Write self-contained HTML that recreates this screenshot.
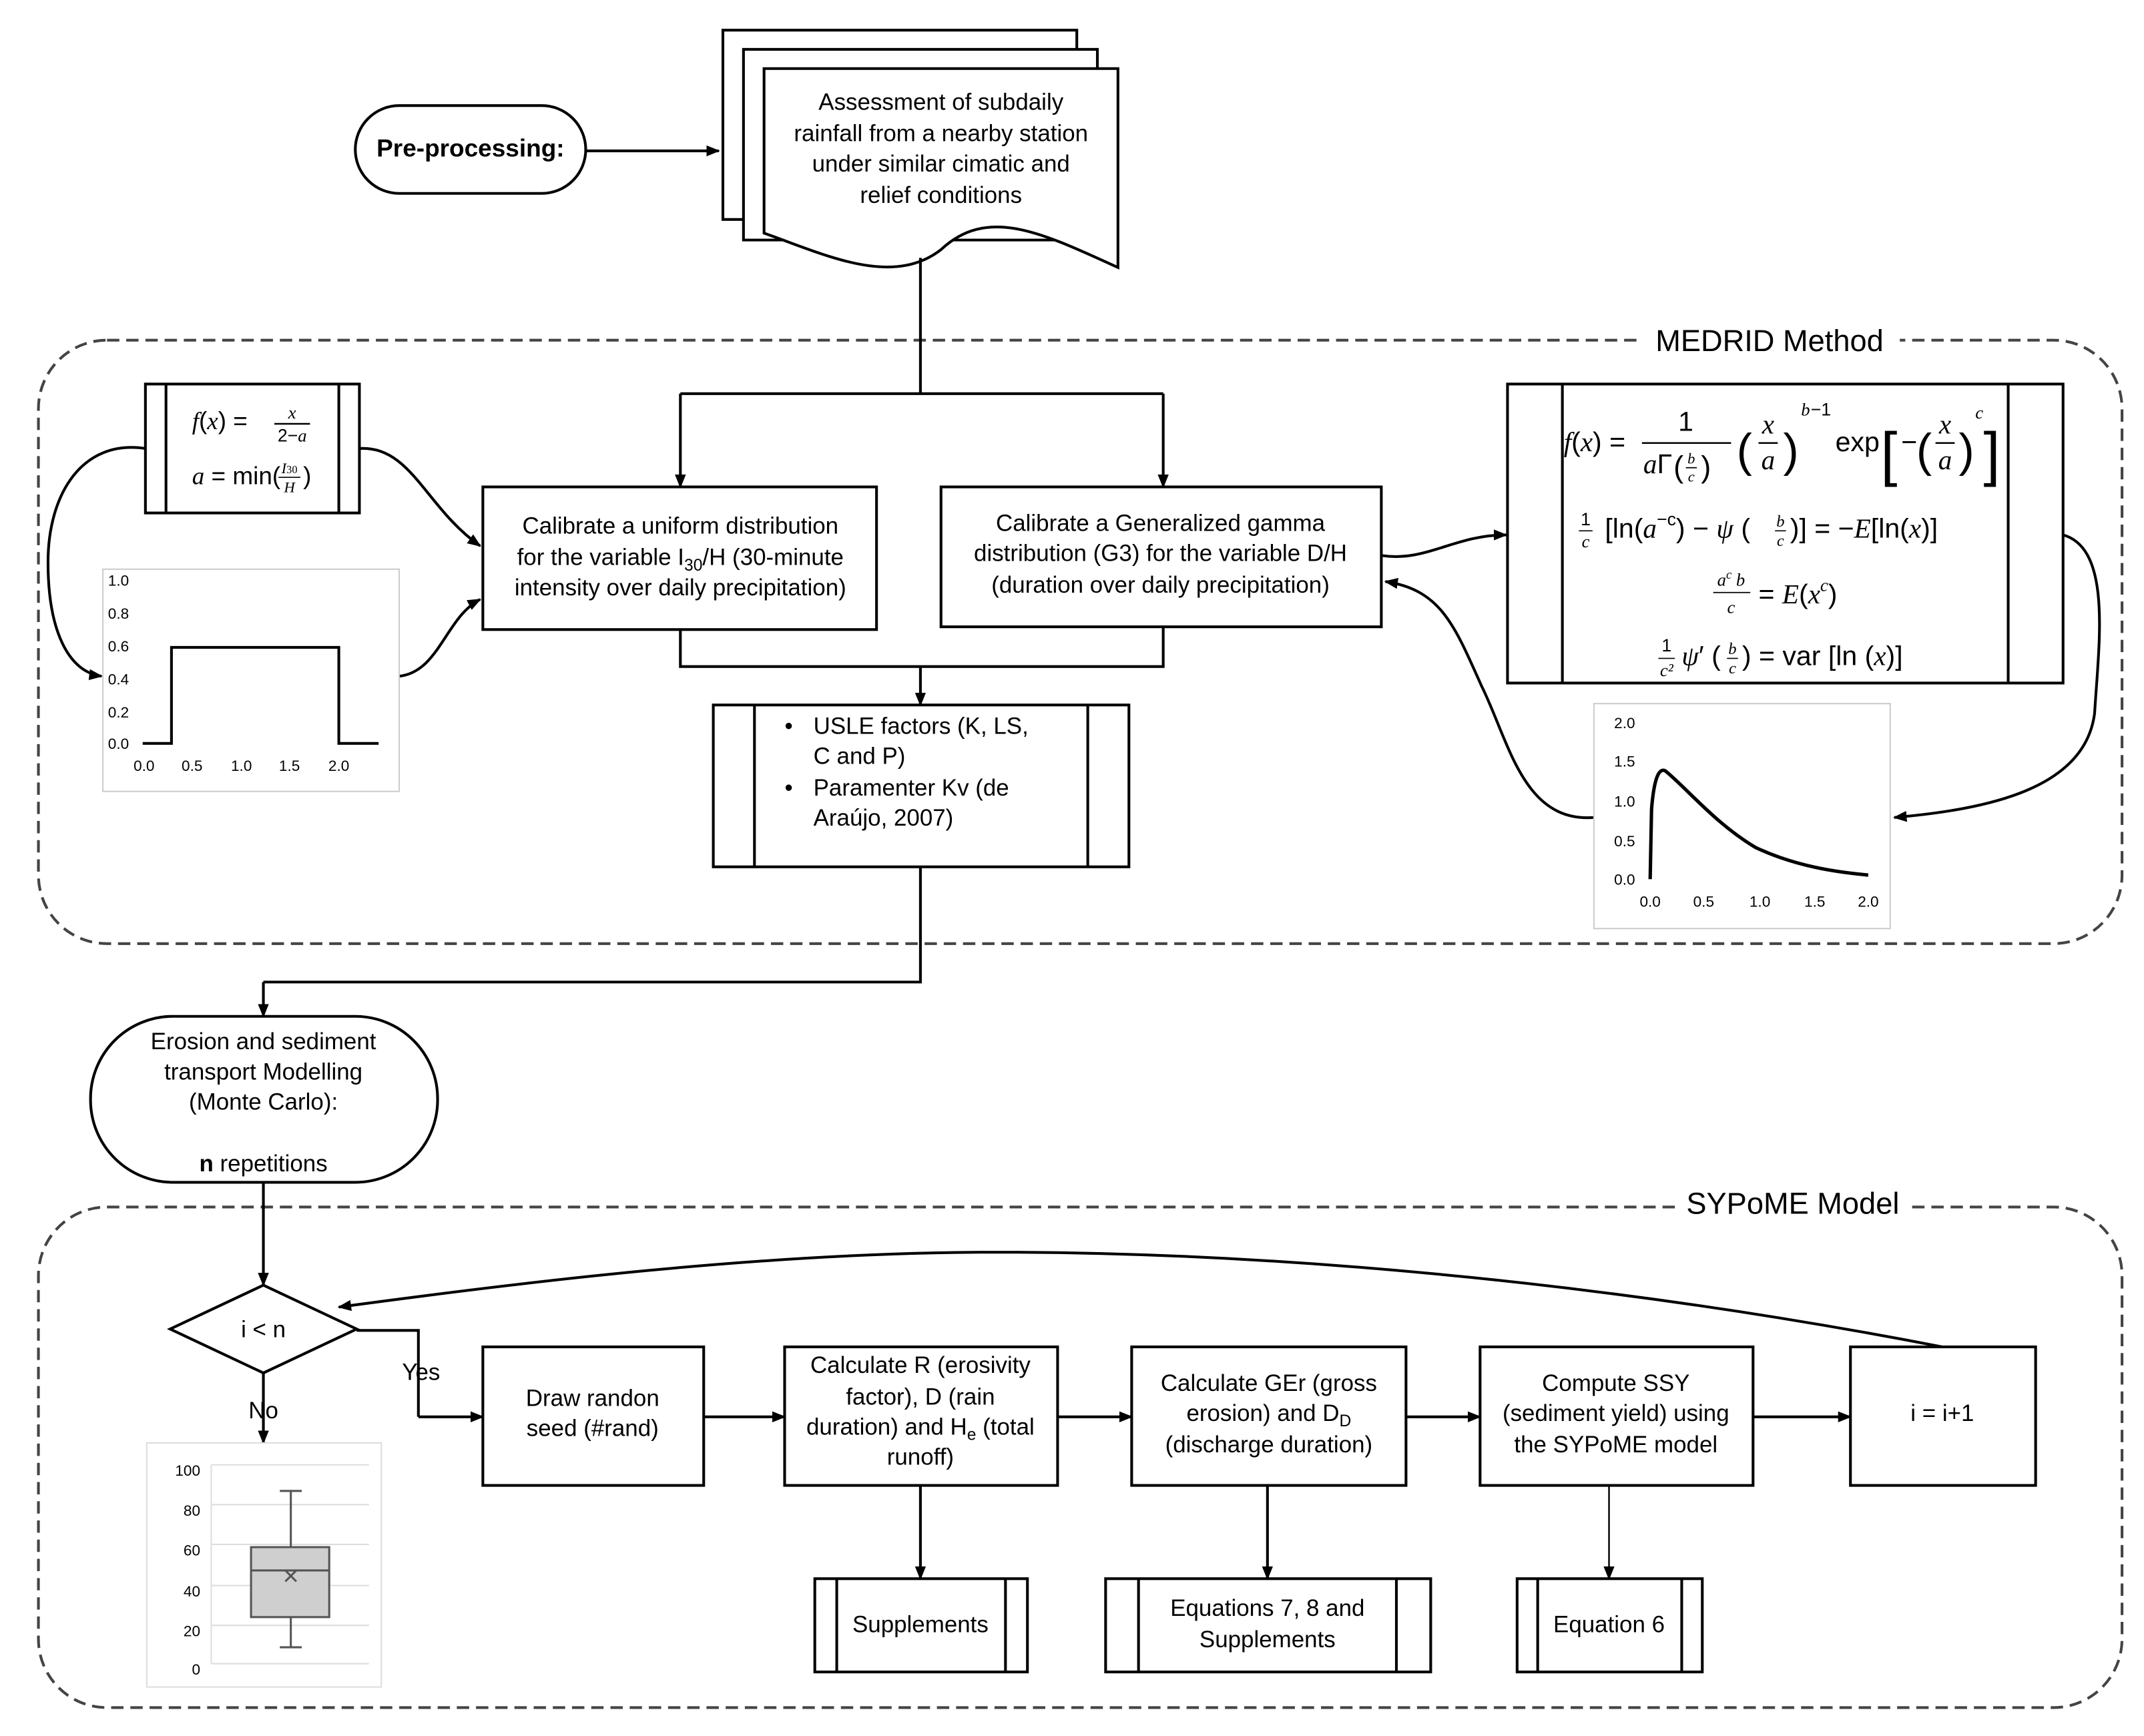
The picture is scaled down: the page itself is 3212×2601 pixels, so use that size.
<!DOCTYPE html>
<html><head><meta charset="utf-8"><style>
html,body{margin:0;padding:0;background:#fff}
svg{display:block}
text{font-family:"Liberation Sans",sans-serif;fill:#000}
.s{font-family:"Liberation Serif",serif;font-style:italic}
.r{font-family:"Liberation Serif",serif}
.ax{font-size:11px;fill:#222}
</style></head><body>
<svg width="3212" height="2601" viewBox="0 0 1563 1265.7" xmlns="http://www.w3.org/2000/svg">
<defs>
<marker id="a" markerWidth="10" markerHeight="10" refX="9" refY="5" orient="auto" markerUnits="userSpaceOnUse"><path d="M0,1 L10,5 L0,9 z" fill="#000"/></marker>
</defs>
<g fill="none" stroke="#000" stroke-width="2">
<rect x="28" y="248" width="1519" height="440" rx="50" stroke="#444" stroke-dasharray="9,5"/>
<rect x="28" y="880" width="1519" height="365" rx="50" stroke="#444" stroke-dasharray="9,5"/>
</g>
<rect x="1195" y="236" width="190" height="24" fill="#fff"/>
<text x="1290" y="256" font-size="22" text-anchor="middle" fill="#333">MEDRID Method</text>
<rect x="1222" y="865" width="170" height="24" fill="#fff"/>
<text x="1307" y="885" font-size="22" text-anchor="middle" fill="#333">SYPoME Model</text>

<g fill="none" stroke="#000" stroke-width="2">
<rect x="259" y="77" width="168" height="64" rx="32" fill="#fff"/>
<line x1="427" y1="110" x2="524" y2="110" marker-end="url(#a)"/>
<path d="M527,22 H785 V160 H527 Z" fill="#fff"/>
<path d="M542,36 H800 V175 H542 Z" fill="#fff"/>
<path d="M557,50 H815 V195 C760,170 720,150 686,182 C650,210 600,185 557,170 Z" fill="#fff"/>
<polyline points="671,188 671,287"/>
<polyline points="496,287 848,287"/>
<line x1="496" y1="287" x2="496" y2="355" marker-end="url(#a)"/>
<line x1="848" y1="287" x2="848" y2="355" marker-end="url(#a)"/>
<rect x="106" y="280" width="156" height="94" fill="#fff"/>
<line x1="121" y1="280" x2="121" y2="374"/><line x1="247" y1="280" x2="247" y2="374"/>
<rect x="352" y="355" width="287" height="104" fill="#fff"/>
<rect x="686" y="355" width="321" height="102" fill="#fff"/>
<polyline points="496,459 496,486 848,486 848,457"/>
<line x1="671" y1="486" x2="671" y2="514" marker-end="url(#a)"/>
<rect x="520" y="514" width="303" height="118" fill="#fff"/>
<line x1="550" y1="514" x2="550" y2="632"/><line x1="793" y1="514" x2="793" y2="632"/>
<rect x="1099" y="280" width="405" height="218" fill="#fff"/>
<line x1="1139" y1="280" x2="1139" y2="498"/><line x1="1464" y1="280" x2="1464" y2="498"/>
<path d="M106,327 C60,320 35,360 35,410 C35,460 50,490 74,493" marker-end="url(#a)"/>
<path d="M262,327 C300,325 310,370 350,398" marker-end="url(#a)"/>
<path d="M291,493 C320,490 325,450 350,437" marker-end="url(#a)"/>
<path d="M1007,405 C1040,410 1060,390 1098,390" marker-end="url(#a)"/>
<path d="M1504,390 C1540,400 1530,470 1527,520 C1520,575 1450,590 1381,596" marker-end="url(#a)"/>
<path d="M1162,596 C1110,600 1100,540 1080,500 C1060,455 1050,430 1010,424" marker-end="url(#a)"/>
<polyline points="671,632 671,716 192,716"/>
<line x1="192" y1="716" x2="192" y2="741" marker-end="url(#a)"/>
<rect x="66" y="741" width="253" height="121" rx="60" fill="#fff"/>
<line x1="192" y1="862" x2="192" y2="937" marker-end="url(#a)"/>
<path d="M192,937 L260,969 L192,1001 L124,969 Z" fill="#fff"/>
<polyline points="260,970 305,970 305,1033"/>
<line x1="305" y1="1033" x2="352" y2="1033" marker-end="url(#a)"/>
<line x1="192" y1="1001" x2="192" y2="1052" marker-end="url(#a)"/>
<rect x="352" y="982" width="161" height="101" fill="#fff"/>
<rect x="572" y="982" width="199" height="101" fill="#fff"/>
<rect x="825" y="982" width="200" height="101" fill="#fff"/>
<rect x="1079" y="982" width="199" height="101" fill="#fff"/>
<rect x="1349" y="982" width="135" height="101" fill="#fff"/>
<line x1="513" y1="1033" x2="572" y2="1033" marker-end="url(#a)"/>
<line x1="771" y1="1033" x2="825" y2="1033" marker-end="url(#a)"/>
<line x1="1025" y1="1033" x2="1079" y2="1033" marker-end="url(#a)"/>
<line x1="1278" y1="1033" x2="1349" y2="1033" marker-end="url(#a)"/>
<path d="M1416,982 C1200,940 950,912 714,913 C550,914 380,935 247,953" marker-end="url(#a)"/>
<line x1="671" y1="1083" x2="671" y2="1151" marker-end="url(#a)"/>
<line x1="924" y1="1083" x2="924" y2="1151" marker-end="url(#a)"/>
<line x1="1173" y1="1083" x2="1173" y2="1151" stroke-width="1.2" marker-end="url(#a)"/>
<rect x="594" y="1151" width="155" height="68" fill="#fff"/>
<line x1="610" y1="1151" x2="610" y2="1219"/><line x1="733" y1="1151" x2="733" y2="1219"/>
<rect x="806" y="1151" width="237" height="68" fill="#fff"/>
<line x1="830" y1="1151" x2="830" y2="1219"/><line x1="1018" y1="1151" x2="1018" y2="1219"/>
<rect x="1106" y="1151" width="135" height="68" fill="#fff"/>
<line x1="1121" y1="1151" x2="1121" y2="1219"/><line x1="1226" y1="1151" x2="1226" y2="1219"/>
</g>

<rect x="75" y="415" width="216" height="162" fill="#fff" stroke="#ccc"/>
<g class="ax" font-size="11">
<text x="94" y="427" text-anchor="end">1.0</text><text x="94" y="451" text-anchor="end">0.8</text>
<text x="94" y="475" text-anchor="end">0.6</text><text x="94" y="499" text-anchor="end">0.4</text>
<text x="94" y="523" text-anchor="end">0.2</text><text x="94" y="546" text-anchor="end">0.0</text>
<text x="105" y="562" text-anchor="middle">0.0</text><text x="140" y="562" text-anchor="middle">0.5</text>
<text x="176" y="562" text-anchor="middle">1.0</text><text x="211" y="562" text-anchor="middle">1.5</text>
<text x="247" y="562" text-anchor="middle">2.0</text>
</g>
<polyline points="104,542 125,542 125,472 247,472 247,542 276,542" fill="none" stroke="#000" stroke-width="2"/>

<rect x="1162" y="513" width="216" height="164" fill="#fff" stroke="#ccc"/>
<g class="ax">
<text x="1192" y="531" text-anchor="end">2.0</text><text x="1192" y="559" text-anchor="end">1.5</text>
<text x="1192" y="588" text-anchor="end">1.0</text><text x="1192" y="617" text-anchor="end">0.5</text>
<text x="1192" y="645" text-anchor="end">0.0</text>
<text x="1203" y="661" text-anchor="middle">0.0</text><text x="1242" y="661" text-anchor="middle">0.5</text>
<text x="1283" y="661" text-anchor="middle">1.0</text><text x="1323" y="661" text-anchor="middle">1.5</text>
<text x="1362" y="661" text-anchor="middle">2.0</text>
</g>
<path d="M1203,641 L1204,590 C1206,565 1210,560 1214,562 C1230,575 1250,600 1280,618 C1310,632 1340,636 1362,638" fill="none" stroke="#000" stroke-width="2.5"/>

<rect x="107" y="1052" width="171" height="178" fill="#fff" stroke="#ddd"/>
<g stroke="#ddd"><line x1="154" y1="1068" x2="269" y2="1068"/><line x1="154" y1="1097" x2="269" y2="1097"/><line x1="154" y1="1126" x2="269" y2="1126"/><line x1="154" y1="1156" x2="269" y2="1156"/><line x1="154" y1="1185" x2="269" y2="1185"/><line x1="154" y1="1213" x2="269" y2="1213"/><line x1="154" y1="1068" x2="154" y2="1213"/></g>
<g class="ax" font-size="12" fill="#111">
<text x="146" y="1076" text-anchor="end">100</text><text x="146" y="1105" text-anchor="end">80</text>
<text x="146" y="1134" text-anchor="end">60</text><text x="146" y="1164" text-anchor="end">40</text>
<text x="146" y="1193" text-anchor="end">20</text><text x="146" y="1221" text-anchor="end">0</text>
</g>
<g stroke="#555" stroke-width="1.5" fill="none">
<line x1="212" y1="1087" x2="212" y2="1128"/><line x1="204" y1="1087" x2="220" y2="1087"/>
<rect x="183" y="1128" width="57" height="51" fill="#d0cfd0"/>
<line x1="183" y1="1145" x2="240" y2="1145"/>
<line x1="208" y1="1145" x2="216" y2="1153"/><line x1="216" y1="1145" x2="208" y2="1153"/>
<line x1="212" y1="1179" x2="212" y2="1201"/><line x1="204" y1="1201" x2="220" y2="1201"/>
</g>

<g font-size="17" text-anchor="middle">
<text x="343" y="114" font-weight="bold" font-size="18">Pre-processing:</text>
<text x="686" y="80">Assessment of subdaily</text>
<text x="686" y="103">rainfall from a nearby station</text>
<text x="686" y="125">under similar cimatic and</text>
<text x="686" y="148">relief conditions</text>
<text x="496" y="389">Calibrate a uniform distribution</text>
<text x="496" y="412">for the variable I<tspan font-size="12" dy="4">30</tspan><tspan dy="-4">/H (30-minute</tspan></text>
<text x="496" y="434">intensity over daily precipitation)</text>
<text x="846" y="387">Calibrate a Generalized gamma</text>
<text x="846" y="409">distribution (G3) for the variable D/H</text>
<text x="846" y="432">(duration over daily precipitation)</text>
<text x="192" y="765">Erosion and sediment</text>
<text x="192" y="787">transport Modelling</text>
<text x="192" y="809">(Monte Carlo):</text>
<text x="192" y="854"><tspan font-weight="bold">n</tspan> repetitions</text>
<text x="192" y="975">i &lt; n</text>
<text x="307" y="1006">Yes</text>
<text x="192" y="1034">No</text>
<text x="432" y="1025">Draw randon</text>
<text x="432" y="1047">seed (#rand)</text>
<text x="671" y="1001">Calculate R (erosivity</text>
<text x="671" y="1024">factor), D (rain</text>
<text x="671" y="1046">duration) and H<tspan font-size="12" dy="4">e</tspan><tspan dy="-4"> (total</tspan></text>
<text x="671" y="1068">runoff)</text>
<text x="925" y="1014">Calculate GEr (gross</text>
<text x="925" y="1036">erosion) and D<tspan font-size="12" dy="4">D</tspan></text>
<text x="925" y="1059">(discharge duration)</text>
<text x="1178" y="1014">Compute SSY</text>
<text x="1178" y="1036">(sediment yield) using</text>
<text x="1178" y="1059">the SYPoME model</text>
<text x="1416" y="1036">i = i+1</text>
<text x="671" y="1190">Supplements</text>
<text x="924" y="1178">Equations 7, 8 and</text>
<text x="924" y="1201">Supplements</text>
<text x="1173" y="1190">Equation 6</text>
</g>
<g font-size="17">
<text x="572" y="535">•</text><text x="593" y="535">USLE factors (K, LS,</text>
<text x="593" y="557">C and P)</text>
<text x="572" y="580">•</text><text x="593" y="580">Paramenter Kv (de</text>
<text x="593" y="602">Araújo, 2007)</text>
</g>
<g font-size="18" class="r">
<text x="140" y="313"><tspan class="s">f</tspan>(<tspan class="s">x</tspan>) = </text>
<text x="213" y="305" font-size="13" text-anchor="middle" class="s">x</text>
<line x1="200" y1="309" x2="226" y2="309" stroke="#000" stroke-width="1.2"/>
<text x="213" y="322" font-size="13" text-anchor="middle">2−<tspan class="s">a</tspan></text>
<text x="140" y="353"><tspan class="s">a</tspan> = min(</text>
<text x="211" y="345" font-size="11" text-anchor="middle" class="s">I<tspan font-size="8" font-style="normal">30</tspan></text>
<line x1="203" y1="348" x2="219" y2="348" stroke="#000" stroke-width="0.8"/>
<text x="211" y="359" font-size="11" text-anchor="middle" class="s">H</text>
<text x="221" y="353">)</text>
</g>
<g class="r" font-size="20">
<text x="1140" y="329"><tspan class="s">f</tspan>(<tspan class="s">x</tspan>) =</text>
<text x="1229" y="314" text-anchor="middle">1</text>
<line x1="1197" y1="323" x2="1262" y2="323" stroke="#000" stroke-width="1.2"/>
<text x="1198" y="345"><tspan class="s">a</tspan>Γ</text>
<text x="1220" y="348" font-size="22">(</text>
<text x="1233" y="338" font-size="11" class="s" text-anchor="middle">b</text>
<line x1="1229" y1="341" x2="1237" y2="341" stroke="#000" stroke-width="0.8"/>
<text x="1233" y="351" font-size="11" class="s" text-anchor="middle">c</text>
<text x="1240" y="348" font-size="22">)</text>
<text x="1266" y="340" font-size="34">(</text>
<text x="1289" y="316" text-anchor="middle" class="s">x</text>
<line x1="1282" y1="323" x2="1296" y2="323" stroke="#000" stroke-width="1.2"/>
<text x="1289" y="342" text-anchor="middle" class="s">a</text>
<text x="1300" y="340" font-size="34">)</text>
<text x="1313" y="303" font-size="13" class="s">b</text><text x="1320" y="303" font-size="13">−1</text>
<text x="1338" y="329">exp</text>
<text x="1371" y="346" font-size="44">[</text>
<text x="1386" y="329">−</text>
<text x="1397" y="340" font-size="34">(</text>
<text x="1418" y="316" text-anchor="middle" class="s">x</text>
<line x1="1411" y1="323" x2="1425" y2="323" stroke="#000" stroke-width="1.2"/>
<text x="1418" y="342" text-anchor="middle" class="s">a</text>
<text x="1428" y="340" font-size="34">)</text>
<text x="1440" y="305" font-size="13" class="s">c</text>
<text x="1446" y="346" font-size="44">]</text>

<text x="1156" y="383" font-size="13" text-anchor="middle">1</text>
<line x1="1151" y1="387" x2="1161" y2="387" stroke="#000" stroke-width="0.8"/>
<text x="1156" y="399" font-size="13" text-anchor="middle" class="s">c</text>
<text x="1170" y="392">[ln(<tspan class="s">a</tspan><tspan font-size="13" dy="-9">−c</tspan><tspan dy="9">) − </tspan><tspan class="s">ψ</tspan> (</text>
<text x="1298" y="384" font-size="12" class="s" text-anchor="middle">b</text>
<line x1="1294" y1="387" x2="1302" y2="387" stroke="#000" stroke-width="0.8"/>
<text x="1298" y="398" font-size="12" class="s" text-anchor="middle">c</text>
<text x="1305" y="392">)] = −<tspan class="s">E</tspan>[ln(<tspan class="s">x</tspan>)]</text>

<text x="1262" y="427" font-size="13" class="s" text-anchor="middle">a<tspan font-size="9" dy="-5">c</tspan><tspan dy="5"> b</tspan></text>
<line x1="1249" y1="432" x2="1276" y2="432" stroke="#000" stroke-width="0.9"/>
<text x="1262" y="447" font-size="13" text-anchor="middle" class="s">c</text>
<text x="1282" y="440">= <tspan class="s">E</tspan>(<tspan class="s">x</tspan><tspan font-size="13" class="s" dy="-9">c</tspan><tspan dy="9">)</tspan></text>

<text x="1215" y="475" font-size="13" text-anchor="middle">1</text>
<line x1="1209" y1="480" x2="1221" y2="480" stroke="#000" stroke-width="0.8"/>
<text x="1215" y="493" font-size="13" text-anchor="middle" class="s">c²</text>
<text x="1226" y="485"><tspan class="s">ψ</tspan>′ (</text>
<text x="1263" y="477" font-size="12" class="s" text-anchor="middle">b</text>
<line x1="1259" y1="480" x2="1267" y2="480" stroke="#000" stroke-width="0.8"/>
<text x="1263" y="491" font-size="12" class="s" text-anchor="middle">c</text>
<text x="1270" y="485">) = var [ln (<tspan class="s">x</tspan>)]</text>
</g>
</svg>
</body></html>
